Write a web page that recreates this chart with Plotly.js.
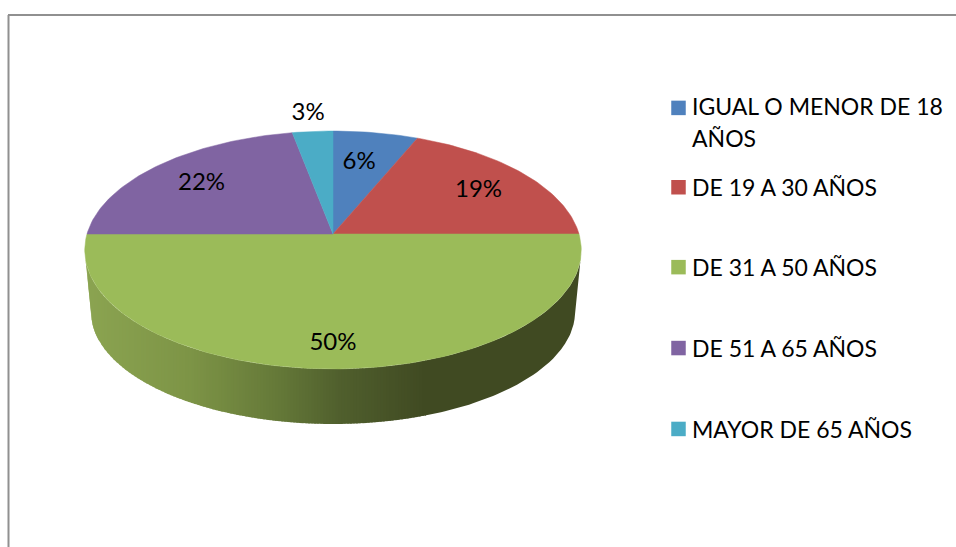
<!DOCTYPE html>
<html>
<head>
<meta charset="utf-8">
<script src="https://cdn.plot.ly/plotly-3.0.1.min.js"></script>
<style>html,body{margin:0;padding:0;background:#fff;overflow:hidden}#chart{width:956px;height:547px}</style>
</head>
<body>
<div id="chart"></div>
<script>
const categories = ["IGUAL O MENOR DE 18<br>AÑOS", "DE 19 A 30 AÑOS", "DE 31 A 50 AÑOS", "DE 51 A 65 AÑOS", "MAYOR DE 65 AÑOS"];
const shares = [6.3, 18.7, 50, 22, 3];
const colors = ["#4f81bd", "#c0504d", "#9bbb59", "#8064a2", "#4bacc6"];
const labelReach = [[0.61, 0.70], [0.764, 0.71], [0.79, 0.813], [0.753, 0.734], [1.22, 1.17]];
const sideStops = [[85, [139,164,81]], [190, [125,148,70]], [280, [100,120,56]], [340, [80,95,45]], [425, [64,74,34]], [582, [64,74,34]]];
const legendShift = [-5, -37, -40, -42, -44];

// perspective disc geometry
const cx = 333, cy = 234, halfW = 246, depthB = 116.8, k = 0.1345;
const rimX = 248.5, rimCy = 250, rimRy = 119;
const baseX = 242, baseCy = 312, baseRy = 112;

function project(theta) {
  const u = Math.sin(theta), v = Math.cos(theta), d = 1 + k * v;
  return [cx + halfW * u / d, cy - depthB * v / d];
}
function sideColor(x) {
  for (let i = 1; i < sideStops.length; i++) {
    if (x <= sideStops[i][0]) {
      const [x0, c0] = sideStops[i - 1], [x1, c1] = sideStops[i];
      const t = Math.max(0, (x - x0) / (x1 - x0));
      return "rgb(" + c0.map((c, j) => Math.round(c + (c1[j] - c) * t)).join(",") + ")";
    }
  }
  return "rgb(64,74,34)";
}
function wallTop(x) {
  const r = Math.min(1, Math.abs(x - cx) / rimX);
  return rimCy + rimRy * Math.sqrt(1 - r * r);
}
function wallBottom(x) {
  const a = Math.abs(x - cx);
  if (a > baseX) return rimCy + (baseCy - rimCy) * (rimX - a) / (rimX - baseX);
  const r = a / baseX;
  return baseCy + baseRy * Math.sqrt(1 - r * r);
}

const traces = [];

// extruded side wall: vertical columns, painted left to right
const left = cx - rimX, right = cx + rimX, shadeEnd = 425;
const edges = [];
for (let x = left; x < left + 14; x += 1) edges.push(x);
for (let x = left + 14; x < shadeEnd; x += 3) edges.push(x);
edges.push(shadeEnd);
for (let i = 0; i < edges.length - 1; i++) {
  const x0 = edges[i], x1 = Math.min(right, edges[i + 1] + 1), col = sideColor((edges[i] + edges[i + 1]) / 2);
  traces.push({
    type: "scatter", mode: "lines", x: [x0, x1, x1, x0, x0],
    y: [wallTop(x0), wallTop(x1), wallBottom(x1), wallBottom(x0), wallTop(x0)],
    fill: "toself", fillcolor: col, line: {width: 0}, showlegend: false, hoverinfo: "skip"
  });
}
const flatX = [], flatTop = [], flatBot = [];
for (let x = shadeEnd; x < right - 14; x += 4) flatX.push(x);
for (let x = right - 14; x <= right; x += 1) flatX.push(x);
flatX.push(right);
traces.push({
  type: "scatter", mode: "lines", x: flatX.concat(flatX.slice().reverse()),
  y: flatX.map(wallTop).concat(flatX.slice().reverse().map(wallBottom)),
  fill: "toself", fillcolor: sideColor(right), line: {width: 0}, showlegend: false, hoverinfo: "skip"
});

// top slices
const total = shares.reduce((a, b) => a + b, 0);
let cum = 0;
const labX = [], labY = [], labT = [];
shares.forEach((s, i) => {
  const t0 = cum / total * 2 * Math.PI, t1 = (cum + s) / total * 2 * Math.PI;
  const xs = [cx], ys = [cy];
  const n = Math.max(8, Math.round(s * 3));
  for (let j = 0; j <= n; j++) {
    const p = project(t0 + (t1 - t0) * j / n);
    xs.push(p[0]); ys.push(p[1]);
  }
  xs.push(cx); ys.push(cy);
  traces.push({
    type: "scatter", mode: "lines", x: xs, y: ys, fill: "toself", fillcolor: colors[i],
    line: {color: colors[i], width: 0.5}, showlegend: false, name: categories[i].replace("<br>", " "),
    hoverinfo: "name"
  });
  const mid = (t0 + t1) / 2, d = 1 + k * Math.cos(mid);
  labX.push(cx + labelReach[i][0] * halfW * Math.sin(mid) / d);
  labY.push(cy - labelReach[i][1] * depthB * Math.cos(mid) / d);
  labT.push(Math.round(s) + "%");
  cum += s;
});

traces.push({
  type: "scatter", mode: "text", x: labX, y: labY, text: labT, textposition: "middle center",
  textfont: {family: "Lato, 'Open Sans', sans-serif", size: 24, color: "#000"}, showlegend: false, hoverinfo: "skip"
});

// legend entries
categories.forEach((c, i) => traces.push({
  type: "scatter", mode: "markers", x: [null], y: [null], name: c, legendgroup: "g" + i,
  marker: {symbol: "square", size: 14.5, color: colors[i], line: {width: 0}}, hoverinfo: "skip"
}));

const layout = {
  width: 956, height: 547, margin: {l: 0, r: 0, t: 0, b: 0}, paper_bgcolor: "#fff", plot_bgcolor: "#fff",
  xaxis: {range: [0, 956], visible: false, fixedrange: true},
  yaxis: {range: [547, 0], visible: false, fixedrange: true},
  showlegend: true,
  legend: {x: 652 / 956, xanchor: "left", y: 1 - 90 / 547, yanchor: "top", bgcolor: "rgba(0,0,0,0)",
    font: {family: "Lato, 'Open Sans', sans-serif", size: 23, color: "#000"},
    tracegroupgap: 50, traceorder: "grouped", itemclick: false, itemdoubleclick: false},
  shapes: [
    {type: "line", xref: "x", yref: "y", x0: 8.5, x1: 8.5, y0: 15, y1: 547, line: {color: "#909090", width: 2}},
    {type: "line", xref: "x", yref: "y", x0: 8, x1: 956, y0: 15, y1: 15, line: {color: "#909090", width: 2}}
  ]
};
Plotly.newPlot("chart", traces, layout, {displayModeBar: false}).then(gd => {
  gd.querySelectorAll(".legend .traces").forEach((n, i) => {
    const m = /translate\(\s*([-\d.]+)[ ,]+([-\d.]+)\s*\)/.exec(n.getAttribute("transform") || "") || [0, 0, 0];
    n.setAttribute("transform", "translate(" + m[1] + "," + (parseFloat(m[2]) + legendShift[i]) + ")");
    const sym = n.querySelector(".legendsymbols");
    if (sym) sym.setAttribute("transform", "translate(6.5," + (i === 0 ? -13.5 : 0) + ")");
    const second = n.querySelectorAll("tspan.line")[1];
    if (second) second.setAttribute("y", parseFloat(second.getAttribute("y")) + 2);
  });
  const clip = gd.querySelector(".legend .scrollbox");
  if (clip) clip.removeAttribute("clip-path");
});
</script>
</body>
</html>
